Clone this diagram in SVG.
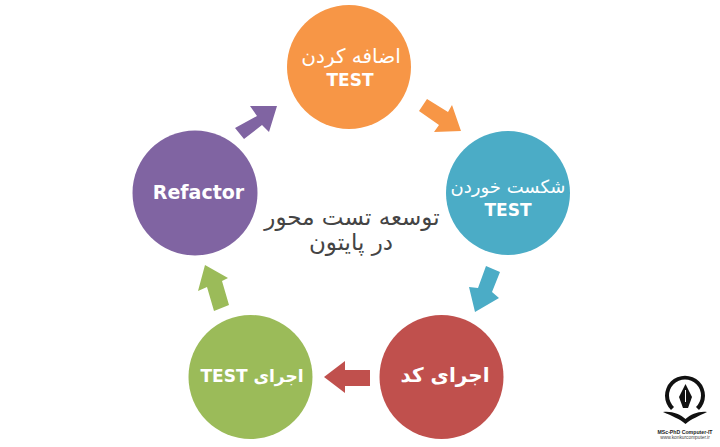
<svg xmlns="http://www.w3.org/2000/svg" width="720" height="447" viewBox="0 0 720 447">
<style>
text{font-family:"DejaVu Sans","Noto Sans",sans-serif;text-anchor:middle}
.l{fill:#fff;font-size:19px}
.b{font-weight:bold}
.t{font-size:17px}
.c{fill:#444;font-size:23px}
.w{font-family:"Liberation Sans",sans-serif}
</style>
<rect width="720" height="447" fill="#fff"/>
<g id="connectors">
<polygon fill="#f79646" points="427,99 419,111 439,125 434,132 461,131 452,105 448,112"/>
<polygon fill="#4bacc6" points="486,266 500,272 492,292 499,298 475,312 469,287 478,288"/>
<polygon fill="#c0504d" points="370,370 370,386 345,386 345,393 324,377 345,361 345,370"/>
<polygon fill="#9bbb59" points="214,311 229,305 222,281 228,278 205,265 198,291 207,287"/>
<polygon fill="#8064a2" points="235,128 244,139 262,125 269,132 277,106 250,106 257,116"/>
</g>
<g id="node-add"><circle cx="349" cy="67" r="62" fill="#f79646"/>
<text class="l" x="351" y="63" direction="rtl" style="font-size:20px">اضافه کردن</text><text class="l b t" x="350" y="86">TEST</text></g>
<g id="node-fail"><circle cx="508" cy="193" r="62" fill="#4bacc6"/>
<text class="l" x="508" y="193" direction="rtl" style="font-size:18px">شکست خوردن</text><text class="l b t" x="508" y="216">TEST</text></g>
<g id="node-code"><circle cx="441.500" cy="377" r="62" fill="#c0504d"/>
<text class="l b" x="445" y="382" direction="rtl" style="font-size:20px">اجرای کد</text></g>
<g id="node-run"><circle cx="250.500" cy="377" r="62" fill="#9bbb59"/>
<text class="l b t" x="252" y="382" direction="rtl">اجرای TEST</text></g>
<g id="node-refactor"><circle cx="195" cy="193" r="62.500" fill="#8064a2"/>
<text class="l b" x="198.500" y="199">Refactor</text></g>
<g id="title">
<text class="c" x="352" y="225" direction="rtl">توسعه تست محور</text>
<text class="c" x="351" y="250" direction="rtl">در پایتون</text>
</g>
<g id="logo">
<path d="M671 410A20 20 0 1 1 699 410L696 407A16 16 0 1 0 674 407Z" fill="#111"/>
<path d="M685.500 384L692 397L688 408L683 408L679 397Z" fill="#111"/>
<path d="M685.500 390V402" stroke="#fff" stroke-width="1"/>
<path d="M663 412C672 411 680 414 685.500 419C691 414 699 411 707 412C699 416 691 419 685.500 424C680 419 672 416 663 412Z" fill="#111"/>
<text class="w" x="685" y="434" font-size="5.200" font-weight="bold" fill="#222">MSc-PhD Computer-IT</text>
<text class="w" x="685" y="439" font-size="4.800" fill="#444">www.konkurcomputer.ir</text>
</g>
</svg>
